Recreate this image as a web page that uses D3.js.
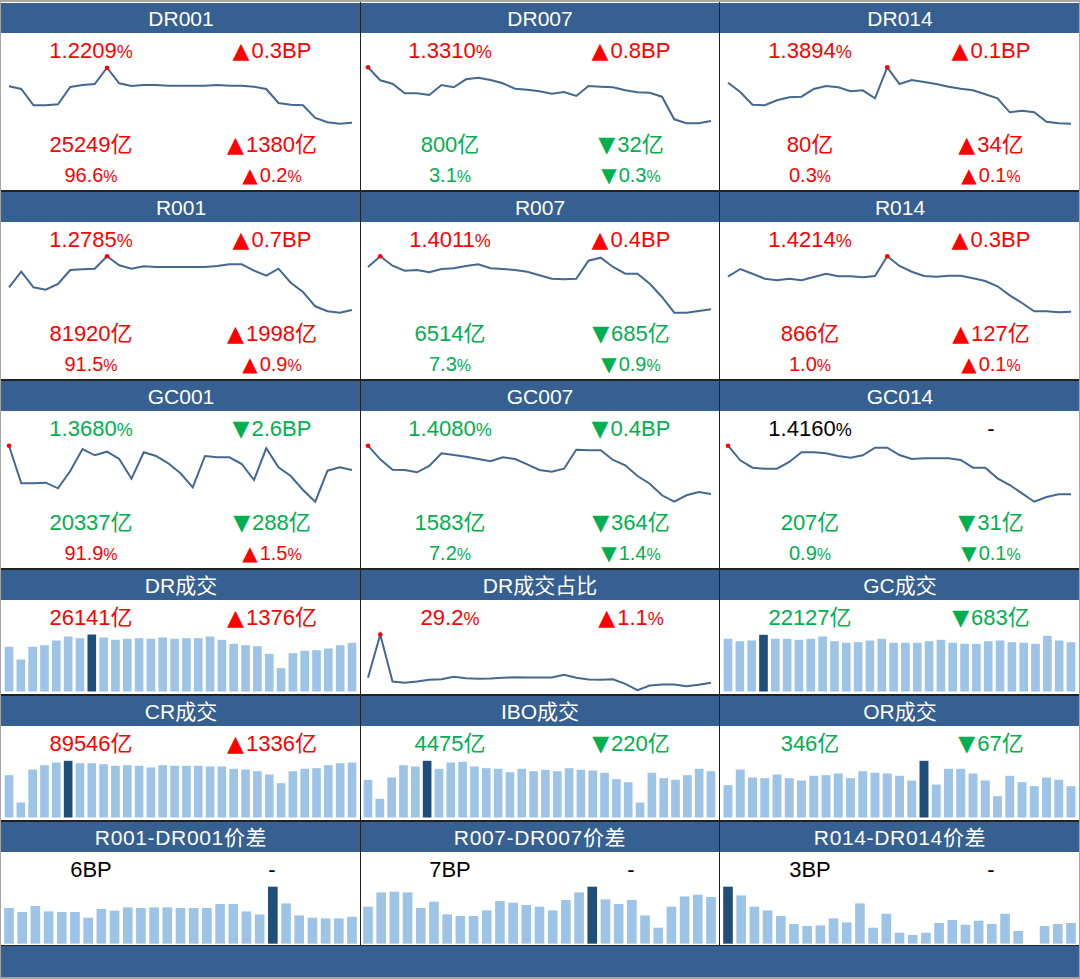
<!DOCTYPE html>
<html>
<head>
<meta charset="utf-8">
<script src="https://d3js.org/d3.v7.min.js"></script>
<style>
  html, body { margin: 0; padding: 0; background: #fff; }
  svg { display: block; }
  text { font-family: "Liberation Sans", "Noto Sans CJK SC", sans-serif; text-anchor: middle; }
</style>
</head>
<body>
<svg id="board" width="1080" height="979"></svg>
<script>
// line series (height above the panel floor)
const dr001 = [43.7,41,24.7,24.7,25.7,43,45,46,62.3,46.7,44,45,45,44.3,44.3,44.3,44.3,45,44.3,44.3,43.3,41,27,25.3,24.7,12,7.7,6.3,7.3];
const dr007 = [62.7,49.7,46.3,36.7,36.7,35,45,42.7,50.7,52.3,50,46.7,41.3,40.3,38.7,36.3,38,34,44,43.3,42.7,39.7,37.7,37.3,33.3,10.7,6.7,6.7,9];
const dr014 = [47.3,38,25.3,24.7,29.7,32.7,33.3,41,44,42.7,38.7,39.7,31.7,62.7,46,50,48,46,43.3,41.3,39.7,35.7,31.7,17.7,19.3,17.7,8.3,6.7,6.3];
const r001 = [31.7,47.3,31.7,29.3,35,49,49.7,50.3,62.7,53.7,50.3,52.7,52,52,52,52,52,53,54.7,54.7,48.3,43.3,50.3,36.3,27,12.7,7.7,6.3,9];
const r007 = [52,62.7,53.3,48.3,49,46.7,50,50.7,53,54.7,50.7,50,49,47.3,43.7,40.3,39.7,40.3,58.3,61.3,52,45.3,45.3,35.3,22,6.3,6.3,8,9.7];
const r014 = [42.3,50,45.3,40.3,38.7,40.3,38.7,42,45.3,42.7,42.7,41.7,43,62.7,53,47.3,43,42.3,43.3,43.3,40.7,38,32.7,23.7,16,7.7,7.7,6.7,7.3];
const gc001 = [62.3,24.7,24.7,25.3,19.7,37,59,52.7,56.3,49,29.3,55.7,52,44.7,34.7,20.7,52,50.7,50.7,44,28,59.7,40.7,32,18,6.3,37.3,40.7,38];
const gc007 = [62.3,48.7,38.3,38,35.7,42,54.7,53,51.3,49,46.7,50.7,49,43.7,38,36.3,39.3,58.3,57.7,57.7,48,42.7,32,24.3,12.7,6.3,12.7,16,14];
const gc014 = [62.3,47.7,40.3,39.3,39.3,46,55.7,55.7,54.7,52,50.3,52.7,60.3,60.3,53,49,49.7,49.7,49.7,48,40.3,40.3,29.7,23,14.7,6.3,11,13.7,13.7];
const drShare = [13.7,57,10,8.7,10,11.7,12.3,14.7,13.3,12.7,13,13.7,14.3,14,14,14,16.7,13.7,12,11.7,12.3,7.7,1.3,6,7,7,5.3,6.7,8.7];

// bar series
const drVol = [44.7,32,44.7,46.3,51,55,53.3,57,54,51.7,52.7,53.3,52.7,54,52.7,53.3,53.3,55,51.7,47.7,46.3,45.3,37.7,23.3,38.3,40.7,41.3,43,46.3,48.7];
const gcVol = [52.7,50.3,51,56.7,52.7,52.7,51.7,52.7,55,50.3,48.7,49.3,51,52.7,48.7,48.7,48.7,50.3,51.7,48.7,47.7,47.7,50.3,51,49.3,48.7,47.7,55.7,51,49.3];
const crVol = [42.3,15,48,52.3,55,56.7,54.3,54.3,53.3,51.7,52.3,51.7,50,52.3,51.7,51.7,51.7,51,51,48.7,48,46.3,43,34.3,46.3,48.7,49.3,52.3,54.3,55];
const iboVol = [37.7,18.7,40,52.3,51,56.7,48.7,55,55.7,51,49.3,48.7,45.3,48.7,46.3,47.7,46.3,49.3,47.7,47,44.7,38.3,35.3,15,44.7,39.3,37.7,42.3,48.7,46.3];
const orVol = [32.3,48,40,39.3,43,39.3,37,41.7,42.3,44,39.3,46.3,44.7,44,41.7,37,56.7,33,48.7,48.7,44,37,21.3,41.7,35.3,31.3,40,37.7,31.3];
const spread001 = [35.7,31.7,37.7,32.3,31.7,31.7,26,34.7,33,36.3,35.7,36.3,36.3,35.7,35.7,35.7,39.7,39.7,32.3,29.3,57,40.3,28.3,26,25.3,25.3,27];
const spread007 = [37,51.3,52,51.3,35.7,42,29.3,27.7,27.7,33.3,42.7,41,38.7,37,33.3,43.7,51.3,57,44.3,39.7,43.7,28.3,16,37,47.3,49,46.7];
const spread014 = [57,48.3,37,33.3,27.7,19.7,17.7,18.3,25.3,21.3,40.3,16,30,11,8.7,11,20.7,23.7,19,23,19.7,30,12.7,0,17.7,19.7,20.7];

// titles and readouts, row by row
const titles = [
  ["DR001", "DR007", "DR014"],
  ["R001", "R007", "R014"],
  ["GC001", "GC007", "GC014"],
  ["DR成交", "DR成交占比", "GC成交"],
  ["CR成交", "IBO成交", "OR成交"],
  ["R001-DR001价差", "R007-DR007价差", "R014-DR014价差"]
];
const series = [
  [dr001, dr007, dr014],
  [r001, r007, r014],
  [gc001, gc007, gc014],
  [drVol, drShare, gcVol],
  [crVol, iboVol, orVol],
  [spread001, spread007, spread014]
];
const readouts = [
  [[["1.2209%","▲0.3BP"],["25249亿","▲1380亿"],["96.6%","▲0.2%"]],
   [["1.3310%","▲0.8BP"],["800亿","▼32亿"],["3.1%","▼0.3%"]],
   [["1.3894%","▲0.1BP"],["80亿","▲34亿"],["0.3%","▲0.1%"]]],
  [[["1.2785%","▲0.7BP"],["81920亿","▲1998亿"],["91.5%","▲0.9%"]],
   [["1.4011%","▲0.4BP"],["6514亿","▼685亿"],["7.3%","▼0.9%"]],
   [["1.4214%","▲0.3BP"],["866亿","▲127亿"],["1.0%","▲0.1%"]]],
  [[["1.3680%","▼2.6BP"],["20337亿","▼288亿"],["91.9%","▲1.5%"]],
   [["1.4080%","▼0.4BP"],["1583亿","▼364亿"],["7.2%","▼1.4%"]],
   [["1.4160%","-"],["207亿","▼31亿"],["0.9%","▼0.1%"]]],
  [[["26141亿","▲1376亿"]], [["29.2%","▲1.1%"]], [["22127亿","▼683亿"]]],
  [[["89546亿","▲1336亿"]], [["4475亿","▼220亿"]], [["346亿","▼67亿"]]],
  [[["6BP","-"]], [["7BP","-"]], [["3BP","-"]]]
];
const barPanels = [drVol, gcVol, crVol, iboVol, orVol, spread001, spread007, spread014];

// layout
const colLefts = [1, 360, 720];
const colWidth = 359;
const rowTops = [3, 192, 381, 570, 696, 822];
const rowBases = [130, 319, 508, 691.5, 817.5, 943.7];
const rowEnds = [190, 379, 568, 694, 820, 945];
const headerH = 30;
const readoutY = [[46.5, 141, 171], [46.5, 141, 171], [46.5, 141, 171], [46.5], [46.5], [46.5]];
const readoutSize = [22, 22, 20];

const colors = {
  header: "#366092", bar: "#9DC3E6", barPeak: "#1F4E79", line: "#44688F",
  up: "#FF0000", down: "#00B050", flat: "#000000", frame: "#A6A6A6", rule: "#222222"
};

const svg = d3.select("#board");
svg.append("rect").attr("width", 1080).attr("height", 979).attr("fill", colors.frame);
svg.append("rect").attr("x", 1).attr("y", 2).attr("width", 1078).attr("height", 975).attr("fill", "#fff");

function readoutColor(change) {
  if (change[0] === "▲") return colors.up;
  if (change[0] === "▼") return colors.down;
  return colors.flat;
}

// the arrow is large and the % sign narrow in the original
function putLabel(g, x, y, size, str, color) {
  const t = g.append("text").attr("x", x).attr("y", y).attr("fill", color)
    .style("font-size", size + "px");
  let rest = str;
  let gap = 0;
  if (rest[0] === "▲" || rest[0] === "▼") {
    t.append("tspan").text(rest[0]).style("font-family", '"DejaVu Sans"');
    rest = rest.slice(1);
    gap = 2;
  }
  const i = rest.indexOf("%");
  if (i < 0) { t.append("tspan").attr("dx", gap).text(rest); return; }
  t.append("tspan").attr("dx", gap).text(rest.slice(0, i));
  t.append("tspan").text("%").style("font-family", '"Liberation Sans Narrow", "Liberation Sans"')
    .style("font-size", (size - 4) + "px");
}

function drawLine(g, values, left, base) {
  const x = d3.scalePoint().domain(d3.range(values.length)).range([left + 8, left + 351]);
  const y = d3.scaleLinear().domain([0, 70]).range([base, base - 70]);
  const line = d3.line().x((d, i) => x(i)).y(d => y(d));
  g.append("path").attr("d", line(values)).attr("fill", "none")
    .attr("stroke", colors.line).attr("stroke-width", 2);
  const peak = d3.maxIndex(values);
  g.append("circle").attr("cx", x(peak)).attr("cy", y(values[peak])).attr("r", 2.3).attr("fill", colors.up);
}

function drawBars(g, values, left, base) {
  const step = 343 / (values.length - 1);
  const x = d3.scaleBand().domain(d3.range(values.length))
    .range([left + 8 - step / 2, left + 351 + step / 2])
    .paddingInner(0.27).paddingOuter(0.135);
  const y = d3.scaleLinear().domain([0, 70]).range([base, base - 70]);
  const peak = d3.maxIndex(values);
  g.selectAll("rect").data(values).join("rect")
    .attr("x", (d, i) => x(i))
    .attr("y", d => y(d))
    .attr("width", x.bandwidth())
    .attr("height", d => base - y(d))
    .attr("fill", (d, i) => i === peak ? colors.barPeak : colors.bar);
}

titles.forEach((row, r) => {
  row.forEach((title, c) => {
    const left = colLefts[c];
    const g = svg.append("g");
    g.append("rect").attr("x", left).attr("y", rowTops[r]).attr("width", colWidth)
      .attr("height", headerH).attr("fill", colors.header);
    g.append("text").attr("x", left + 180).attr("y", rowTops[r] + 22.5).attr("fill", "#fff")
      .style("font-size", "21px")
      .style("letter-spacing", r === 5 ? "0.65px" : null)
      .text(title);

    const marks = g.append("g");
    const values = series[r][c];
    if (barPanels.includes(values)) drawBars(marks, values, left, rowBases[r]);
    else drawLine(marks, values, left, rowBases[r]);

    readouts[r][c].forEach((pair, k) => {
      const color = readoutColor(pair[1]);
      const yy = rowTops[r] + readoutY[r][k] + 8;
      putLabel(g, left + 90, yy, readoutSize[k], pair[0], color);
      putLabel(g, left + 271, yy, readoutSize[k], pair[1], color);
    });
  });
  // dark rule under each row
  svg.append("rect").attr("x", 1).attr("y", rowEnds[r]).attr("width", 1078).attr("height", 2).attr("fill", colors.rule);
});

// footer band
svg.append("rect").attr("x", 1).attr("y", 946).attr("width", 1078).attr("height", 31).attr("fill", colors.header);

// column rules
[360, 719].forEach(x => {
  svg.append("rect").attr("x", x).attr("y", 2).attr("width", 1).attr("height", 943).attr("fill", colors.rule);
});
</script>
</body>
</html>
